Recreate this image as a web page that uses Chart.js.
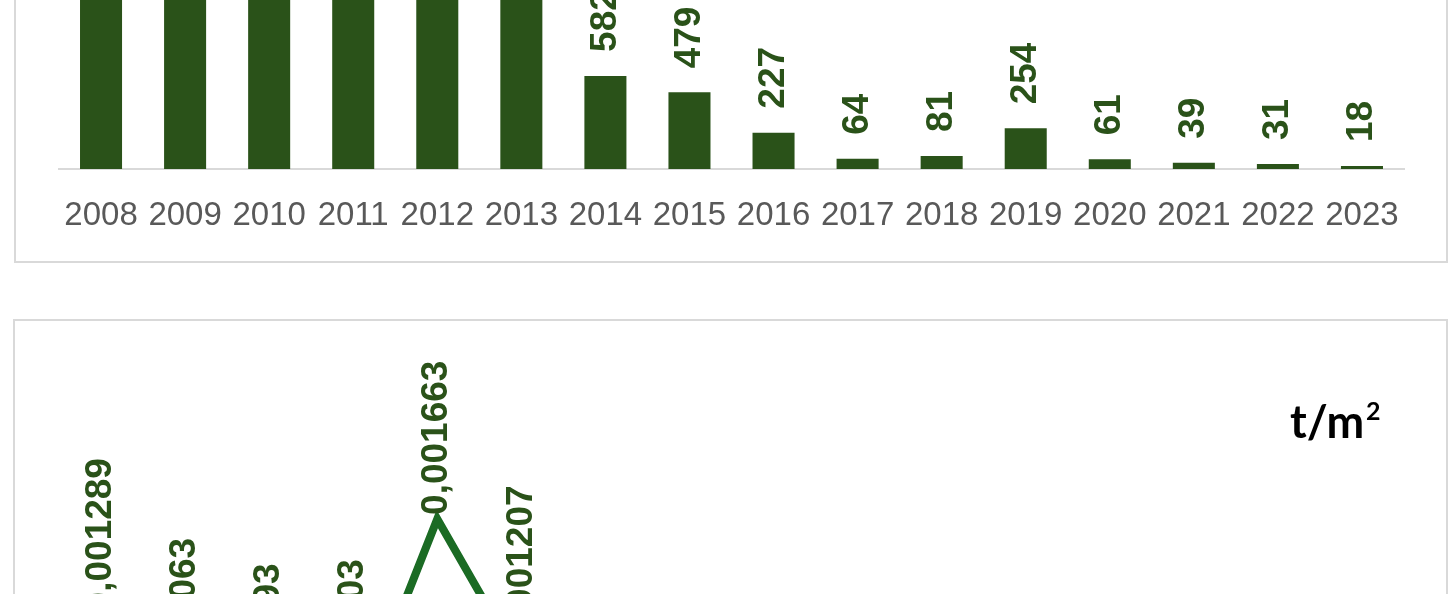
<!DOCTYPE html>
<html><head><meta charset="utf-8">
<script src="https://cdn.jsdelivr.net/npm/chart.js@4.4.1/dist/chart.umd.min.js"></script>
<style>
html,body{margin:0;padding:0;width:1448px;height:594px;overflow:hidden;background:#fff;position:relative}
.box{position:absolute;border:2px solid #d9d9d9;background:#fff;box-sizing:content-box}
canvas{position:absolute;left:0}
</style></head><body>
<div class="box" style="left:14px;top:-200px;width:1430px;height:459px"></div>
<div class="box" style="left:13px;top:319px;width:1431px;height:800px"></div>
<canvas id="c1" width="1448" height="463" style="top:-200px"></canvas>
<canvas id="c2" width="1448" height="740" style="top:322px"></canvas>
<script>
// ---- data ----
const years = ['2008','2009','2010','2011','2012','2013','2014','2015','2016','2017','2018','2019','2020','2021','2022','2023'];
// top chart (bars); 2008-2013 run off the top of the picture, values estimated
const quantities = [1432, 1181, 1103, 1114, 1848, 1341, 582, 479, 227, 64, 81, 254, 61, 39, 31, 18];
// bottom chart (line, t/m2); 2014-2023 fall below the picture, values estimated
const perArea = [0.001289, 0.001063, 0.000993, 0.001003, 0.001663, 0.001207,
                 0.000524, 0.000431, 0.000204, 0.000058, 0.000073, 0.000229, 0.000055, 0.000035, 0.000028, 0.000016];
const unitText = 't/m';
const unitSup = '2';

// ---- styles ----
const BAR_COLOR = '#2a5219';
const LABEL_COLOR = '#2a5219';
const LINE_COLOR = '#1b6b24';
const TICK_COLOR = '#595959';
const BASE_FONT = '"Liberation Sans", Arial, sans-serif';

function makeValueLabels(id, fmt, gapFn) {
  return {
    id,
    afterDatasetsDraw(chart) {
      const ctx = chart.ctx;
      const meta = chart.getDatasetMeta(0);
      const data = chart.data.datasets[0].data;
      ctx.save();
      ctx.font = 'bold 37px ' + BASE_FONT;
      ctx.fillStyle = LABEL_COLOR;
      ctx.textAlign = 'left';
      ctx.textBaseline = 'middle';
      meta.data.forEach((el, i) => {
        const v = data[i];
        if (v == null) return;
        ctx.save();
        ctx.translate(el.x, el.y - gapFn(i));
        ctx.rotate(-Math.PI / 2);
        ctx.fillText(fmt(v), 0, 0);
        ctx.restore();
      });
      ctx.restore();
    }
  };
}

const unitLabel = {
  id: 'unitLabel',
  afterDraw(chart) {
    const ctx = chart.ctx;
    ctx.save();
    ctx.fillStyle = '#000';
    ctx.textBaseline = 'alphabetic';
    ctx.textAlign = 'left';
    ctx.font = 'bold 45px Lato, "Open Sans", sans-serif';
    const x0 = 1290, yb = 116;
    ctx.fillText(unitText, x0, yb);
    const w = ctx.measureText(unitText).width;
    ctx.font = 'bold 25px Lato, "Open Sans", sans-serif';
    ctx.fillText(unitSup, x0 + w + 2, yb - 18);
    ctx.restore();
  }
};

Chart.defaults.font.family = BASE_FONT;

new Chart(document.getElementById('c1'), {
  type: 'bar',
  data: {
    labels: years,
    datasets: [{
      data: quantities,
      backgroundColor: BAR_COLOR,
      borderWidth: 0,
      barPercentage: 0.5,
      categoryPercentage: 1.0
    }]
  },
  options: {
    responsive: false,
    animation: false,
    devicePixelRatio: 1,
    layout: { padding: { left: 59, right: 44, top: 9, bottom: 0.4 } },
    plugins: { legend: { display: false }, tooltip: { enabled: false } },
    scales: {
      x: {
        grid: { display: false, drawTicks: false },
        border: { display: true, color: '#d9d9d9', width: 2 },
        ticks: { color: TICK_COLOR, font: { size: 33, family: BASE_FONT }, padding: 27, maxRotation: 0, autoSkip: false }
      },
      y: { display: false, min: 0, max: 2250 }
    }
  },
  plugins: [makeValueLabels('barLabels', v => String(v), () => 24)]
});

const lineGaps = [27, 20, 17, 18, 4, 26];
new Chart(document.getElementById('c2'), {
  type: 'line',
  data: {
    labels: years,
    datasets: [{
      data: perArea,
      borderColor: LINE_COLOR,
      borderWidth: 8,
      pointRadius: 0,
      tension: 0,
      fill: false
    }]
  },
  options: {
    responsive: false,
    animation: false,
    devicePixelRatio: 1,
    layout: { padding: { left: 59, right: 44, top: 24, bottom: 7.5 } },
    plugins: { legend: { display: false }, tooltip: { enabled: false } },
    scales: {
      x: { display: false, offset: true },
      y: { display: false, min: 0, max: 0.0022 }
    }
  },
  plugins: [makeValueLabels('lineLabels', v => v.toFixed(6).replace('.', ','), i => (i < lineGaps.length ? lineGaps[i] : 24)), unitLabel]
});
</script>
</body></html>
